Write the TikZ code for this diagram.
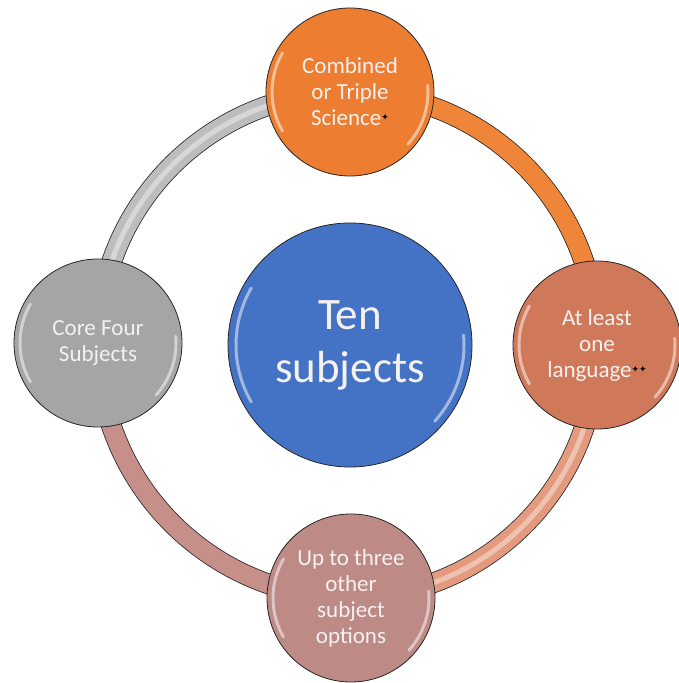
\documentclass[tikz,border=0pt]{standalone}
\usepackage{fontspec}
\setmainfont{Carlito}
\newfontfamily\symfnt{DejaVu Sans}
\usetikzlibrary{calc,backgrounds}
\definecolor{cblue}{HTML}{4472C4}
\definecolor{corange}{HTML}{ED7D31}
\definecolor{csalmon}{HTML}{D0795A}
\definecolor{crose}{HTML}{BD8A86}
\definecolor{cgray}{HTML}{A5A5A5}
\definecolor{agray}{HTML}{BDBDBD}
\definecolor{aorange}{HTML}{EE8538}
\definecolor{asalmon}{HTML}{E39A7E}
\definecolor{arose}{HTML}{C68F8A}
\definecolor{txt}{HTML}{F4F1EF}
\newcommand{\starmark}{\raisebox{5pt}{\symfnt\fontsize{9}{9}\selectfont\color{black}✦}}
\newcommand{\glossarcs}[2]{%
  \draw[gloss] ($(#1.center)+(210:#2)$) arc[start angle=210,end angle=150,radius=#2];
  \draw[gloss] ($(#1.center)+(-42:#2)$) arc[start angle=-42,end angle=5,radius=#2];}
\begin{document}
\begin{tikzpicture}[x=1pt,y=1pt]
\tikzset{
  bubble/.style={circle, draw=black!85, line width=0.8pt, minimum size=168pt, inner sep=0pt,
    text=txt, align=center, font=\fontsize{23}{26}\selectfont},
  hub/.style={bubble, minimum size=244pt, font=\fontsize{45}{53}\selectfont},
  band/.style={draw=black!85, line width=0.8pt, double=#1, double distance=19pt},
  shine/.style={white, opacity=0.4, line width=5pt},
  gloss/.style={white, opacity=0.5, line width=3pt, line cap=round},
}
\useasboundingbox (0,0) rectangle (678,683);
\node[hub, fill=cblue] (hub) at (350,338) {Ten\\subjects};
\node[bubble, fill=corange] (top) at (350,591) {Combined\\or Triple\\Science\starmark};
\node[bubble, fill=csalmon] (right) at (597,338) {At least\\one\\language\starmark\starmark};
\node[bubble, fill=crose] (bottom) at (351,85) {Up to three\\other\\subject\\options};
\node[bubble, fill=cgray] (left) at (98,340) {Core Four\\Subjects};
\glossarcs{hub}{114}
\glossarcs{top}{78}
\glossarcs{right}{78}
\glossarcs{bottom}{78}
\glossarcs{left}{78}
\begin{scope}[on background layer]
  \draw[band=agray] (left.center) to[bend left=45] (top.center);
  \draw[shine] (left.center) to[bend left=45] (top.center);
  \draw[band=aorange] (top.center) to[bend left=45] (right.center);
  \draw[band=asalmon] (right.center) to[bend left=45] (bottom.center);
  \draw[shine] (right.center) to[bend left=45] (bottom.center);
  \draw[band=arose] (bottom.center) to[bend left=45] (left.center);
\end{scope}
\end{tikzpicture}
\end{document}
